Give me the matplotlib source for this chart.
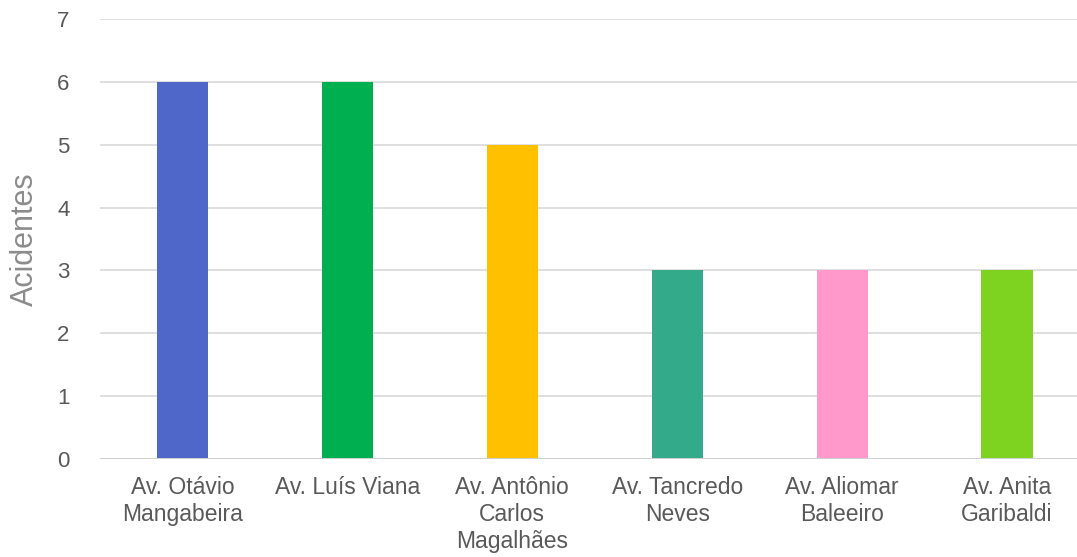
import matplotlib.pyplot as plt

plt.rcParams['font.family'] = ['Liberation Sans', 'DejaVu Sans']

ruas = ['Av. Otávio\nMangabeira', 'Av. Luís Viana', 'Av. Antônio\nCarlos\nMagalhães',
        'Av. Tancredo\nNeves', 'Av. Aliomar\nBaleeiro', 'Av. Anita\nGaribaldi']
acidentes = [6, 6, 5, 3, 3, 3]
cores = ['#4F67C8', '#00B050', '#FFC000', '#33AA8A', '#FF99CC', '#7ED321']

fig = plt.figure(figsize=(10.77, 5.57), dpi=100)
ax = fig.add_axes([100 / 1077, 98 / 557, 989.5 / 1077, 440 / 557])

x = range(len(ruas))
ax.bar(x, acidentes, width=0.31, color=cores, zorder=3)

ax.set_xlim(-0.5, len(ruas) - 0.5)
ax.set_ylim(0, 7)
ax.set_yticks(range(0, 8))
ax.grid(axis='y', color='#D9D9D9', linewidth=1.2, zorder=0)
ax.axhline(0, color='#D0D0D0', linewidth=1.4, zorder=4)

for s in ax.spines.values():
    s.set_visible(False)

ax.set_xticks(list(x))
ax.set_xticklabels(ruas, fontsize=16.5, color='#595959', va='top', linespacing=1.22)
ax.tick_params(axis='x', length=0, pad=12)
ax.tick_params(axis='y', length=0, pad=22, labelsize=16, labelcolor='#595959')

ax.set_ylabel('Acidentes', fontsize=22, color='#8C8C8C', labelpad=12)

fig.savefig('out.png', dpi=100)
